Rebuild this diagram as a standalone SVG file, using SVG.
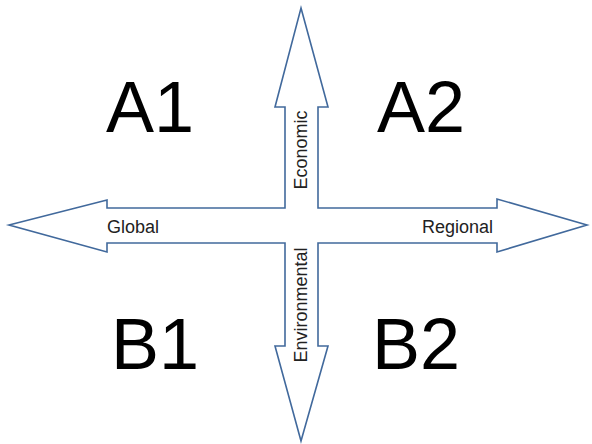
<svg xmlns="http://www.w3.org/2000/svg" width="592" height="444" viewBox="0 0 592 444">
<style>
.arrow{fill:#ffffff;stroke:#41699c;stroke-width:1.6;stroke-linejoin:miter}
.big{font-family:"Liberation Sans",Arial,sans-serif;font-size:72px;fill:#000;text-anchor:middle}
.lbl{font-family:"Liberation Sans",Arial,sans-serif;font-size:18px;fill:#222}
</style>
<rect width="592" height="444" fill="#ffffff"/>
<g id="connectors">
<polygon class="arrow" points="301,8 328,107 318,107 318,208 497,208 497,199 587,225 497,252 497,243 318,243 318,346 328,346 301,441 275,346 285,346 285,243 107,243 107,252 9,225 107,200 107,208 285,208 285,107 275,107"/>
</g>
<g id="axis-labels">
<text class="lbl" x="107" y="233">Global</text>
<text class="lbl" x="422" y="233">Regional</text>
<text class="lbl" text-anchor="middle" transform="translate(307,150) rotate(-90)">Economic</text>
<text class="lbl" text-anchor="middle" transform="translate(307,305) rotate(-90)">Environmental</text>
</g>
<g id="A1"><text class="big" x="150" y="132">A1</text></g>
<g id="A2"><text class="big" x="421" y="132">A2</text></g>
<g id="B1"><text class="big" x="155" y="369">B1</text></g>
<g id="B2"><text class="big" x="416" y="369">B2</text></g>
</svg>
